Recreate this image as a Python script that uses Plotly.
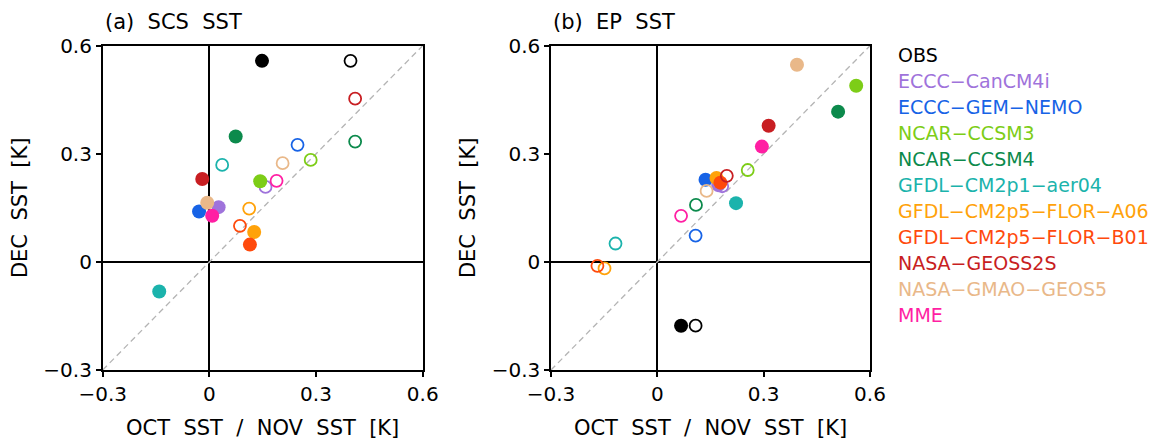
import plotly.graph_objects as go

# ---------------- data ----------------
model_names = ["OBS", "ECCC−CanCM4i", "ECCC−GEM−NEMO", "NCAR−CCSM3", "NCAR−CCSM4",
               "GFDL−CM2p1−aer04", "GFDL−CM2p5−FLOR−A06", "GFDL−CM2p5−FLOR−B01",
               "NASA−GEOSS2S", "NASA−GMAO−GEOS5", "MME"]
model_colors = ["#000000", "#9F73DB", "#1763E6", "#7DCD17", "#0C8A4C",
                "#1BB3AC", "#FFA20A", "#FF4A0C", "#C81E22", "#E9B889", "#FF1FA3"]

# (a) SCS SST : filled = OCT SST vs DEC SST, open = NOV SST vs DEC SST
scs_oct_x = [0.148, 0.026, -0.029, 0.143, 0.074, -0.141, 0.126, 0.114, -0.020, -0.006, 0.008]
scs_oct_y = [0.558, 0.152, 0.140, 0.224, 0.348, -0.082, 0.083, 0.048, 0.230, 0.164, 0.128]
scs_nov_x = [0.397, 0.158, 0.248, 0.285, 0.410, 0.036, 0.112, 0.086, 0.410, 0.206, 0.189]
scs_nov_y = [0.558, 0.208, 0.325, 0.283, 0.334, 0.269, 0.148, 0.100, 0.453, 0.274, 0.225]

# (b) EP SST
ep_oct_x = [0.067, 0.172, 0.136, 0.561, 0.510, 0.222, 0.167, 0.178, 0.314, 0.394, 0.295]
ep_oct_y = [-0.177, 0.213, 0.228, 0.489, 0.417, 0.163, 0.233, 0.220, 0.378, 0.547, 0.320]
ep_nov_x = [0.108, 0.183, 0.108, 0.255, 0.109, -0.118, -0.149, -0.169, 0.196, 0.139, 0.067]
ep_nov_y = [-0.177, 0.210, 0.073, 0.255, 0.158, 0.051, -0.018, -0.011, 0.239, 0.197, 0.128]

axis_range = [-0.3, 0.6]
tick_vals = [-0.3, 0, 0.3, 0.6]
tick_text = ["−0.3", "0", "0.3", "0.6"]
panel_titles = ["(a)  SCS  SST", "(b)  EP  SST"]
x_title = "OCT  SST  /  NOV  SST  [K]"
y_title = "DEC  SST  [K]"

# ---------------- figure ----------------
W, H = 1151, 440
FONT = "DejaVu Sans"
fig = go.Figure()

panels = [
    ("x", "y", scs_oct_x, scs_oct_y, scs_nov_x, scs_nov_y),
    ("x2", "y2", ep_oct_x, ep_oct_y, ep_nov_x, ep_nov_y),
]

for xa, ya, ox, oy, nx, ny in panels:
    # 1:1 diagonal reference line
    fig.add_trace(go.Scatter(x=axis_range, y=axis_range, mode="lines",
                             line=dict(color="#B4B4B4", width=1.3, dash="6px,4px"),
                             xaxis=xa, yaxis=ya, showlegend=False, hoverinfo="skip",
                             cliponaxis=False))
    for i, name in enumerate(model_names):
        c = model_colors[i]
        fig.add_trace(go.Scatter(x=[ox[i]], y=[oy[i]], mode="markers",
                                 marker=dict(symbol="circle", size=14, color=c, line=dict(width=0)),
                                 xaxis=xa, yaxis=ya, showlegend=False, name=name + " OCT"))
        fig.add_trace(go.Scatter(x=[nx[i]], y=[ny[i]], mode="markers",
                                 marker=dict(symbol="circle-open", size=12, color=c,
                                             line=dict(width=1.8, color=c)),
                                 xaxis=xa, yaxis=ya, showlegend=False, name=name + " NOV"))

ydom = [(H - 370) / H, (H - 45.7) / H]
xdoms = [[102.7 / W, 422.7 / W], [551 / W, 870 / W]]

common = dict(range=axis_range, tickvals=tick_vals, ticktext=tick_text, automargin=False,
              showgrid=False, zeroline=True, zerolinecolor="black", zerolinewidth=2.4,
              showline=True, mirror=True, linecolor="black", linewidth=1.5,
              ticks="outside", ticklen=5, tickwidth=1.5, tickcolor="black",
              tickfont=dict(family=FONT, size=20, color="black"))

fig.update_layout(
    template="none",
    width=W, height=H,
    margin=dict(l=0, r=0, t=0, b=0, autoexpand=False),
    paper_bgcolor="white", plot_bgcolor="white",
    font=dict(family=FONT, color="black"),
    xaxis=dict(domain=xdoms[0], anchor="y",
               title=dict(text=x_title, font=dict(family=FONT, size=21), standoff=16), **common),
    yaxis=dict(domain=ydom, anchor="x",
               title=dict(text=y_title, font=dict(family=FONT, size=21), standoff=10), **common),
    xaxis2=dict(domain=xdoms[1], anchor="y2",
                title=dict(text=x_title, font=dict(family=FONT, size=21), standoff=16), **common),
    yaxis2=dict(domain=ydom, anchor="x2",
                title=dict(text=y_title, font=dict(family=FONT, size=21), standoff=10), **common),
)

annotations = []
for k, t in enumerate(panel_titles):
    annotations.append(dict(text=t, xref="paper", yref="paper", x=xdoms[k][0], y=(H - 22) / H,
                            xanchor="left", yanchor="middle", showarrow=False,
                            font=dict(family=FONT, size=21, color="black")))
for i, name in enumerate(model_names):
    annotations.append(dict(text=name, xref="paper", yref="paper", x=896 / W,
                            y=(H - (55 + 26 * i)) / H, xanchor="left", yanchor="middle",
                            showarrow=False, font=dict(family=FONT, size=19, color=model_colors[i])))
fig.update_layout(annotations=annotations)

fig.write_html("out.html")
